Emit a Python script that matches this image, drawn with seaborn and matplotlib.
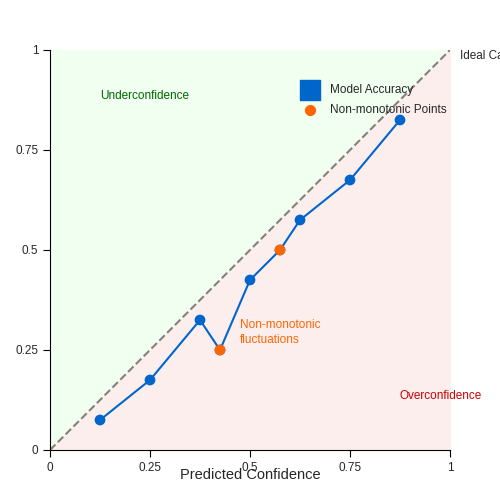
import matplotlib
matplotlib.use("Agg")
import matplotlib.pyplot as plt
import seaborn as sns
import pandas as pd

conf = [0.125, 0.25, 0.375, 0.425, 0.5, 0.575, 0.625, 0.75, 0.875]
acc = [0.075, 0.175, 0.325, 0.25, 0.425, 0.5, 0.575, 0.675, 0.825]
nonmono_conf = [0.425, 0.575]
nonmono_acc = [0.25, 0.5]
ticks = [0, 0.25, 0.5, 0.75, 1]
tick_labels = ["0", "0.25", "0.5", "0.75", "1"]

sns.set_style("white")
plt.rcParams['font.family'] = ['Liberation Sans', 'DejaVu Sans']
fig = plt.figure(figsize=(5, 5), dpi=100)
ax = fig.add_axes([0.1, 0.1, 0.8, 0.8])

ax.fill_between([0, 1], [0, 1], [1, 1], color="#f0fff0", zorder=0)
ax.fill_between([0, 1], [0, 0], [0, 1], color="#fdeeee", zorder=0)
ax.plot([0, 1], [0, 1], ls="--", color="#888077", lw=1.5, zorder=1)

df = pd.DataFrame({"conf": conf, "acc": acc})
sns.lineplot(data=df, x="conf", y="acc", ax=ax, color="#0066cc", lw=1.5, zorder=2, sort=False)
sns.scatterplot(data=df, x="conf", y="acc", ax=ax, color="#0066cc", s=60, edgecolor="none", zorder=3)
sns.scatterplot(x=nonmono_conf, y=nonmono_acc, ax=ax, color="#ff6600", s=60, edgecolor="none", zorder=4)

ax.set_xlim(0, 1)
ax.set_ylim(0, 1)
ax.set_xticks(ticks, tick_labels, fontsize=8.5)
ax.set_yticks(ticks, tick_labels, fontsize=8.5)
ax.tick_params(direction="out", length=5, bottom=True, left=True, color="black")
for s in ["top", "right"]:
    ax.spines[s].set_visible(False)
for s in ["left", "bottom"]:
    ax.spines[s].set_color("black")
ax.set_xlabel("Predicted Confidence", fontsize=10.5, labelpad=-4)
ax.set_ylabel("Empirical Accuracy", fontsize=10.5, labelpad=10)

ax.text(0.125, 0.885, "Underconfidence", color="#006600", fontsize=8.5, va="center")
ax.text(0.875, 0.135, "Overconfidence", color="#cc0000", fontsize=8.5, va="center")
ax.text(0.475, 0.293, "Non-monotonic\nfluctuations", color="#ff6600", fontsize=8.5, va="center", linespacing=1.35)
ax.text(1.025, 0.985, "Ideal Calibration", fontsize=8.5, va="center", clip_on=False)

ax.scatter([0.65], [0.9], marker="s", s=200, color="#0066cc", clip_on=False)
ax.text(0.7, 0.9, "Model Accuracy", fontsize=8.5, va="center")
ax.scatter([0.65], [0.85], marker="o", s=50, color="#ff6600", clip_on=False)
ax.text(0.7, 0.85, "Non-monotonic Points", fontsize=8.5, va="center")

fig.savefig("out.png", dpi=100)
